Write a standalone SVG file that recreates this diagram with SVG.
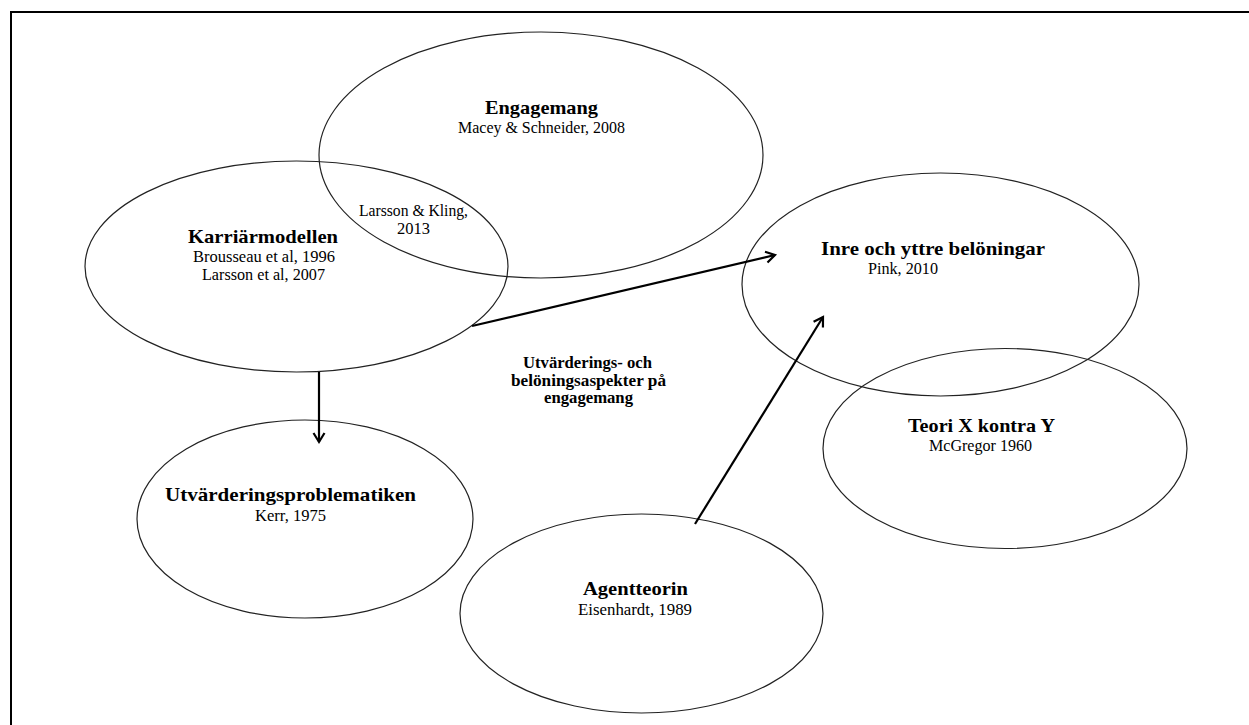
<svg xmlns="http://www.w3.org/2000/svg" width="1249" height="725" viewBox="0 0 1249 725">
<defs>
<style>
.node ellipse{fill:none;stroke:#222;stroke-width:1.2}
.t{font-family:"Liberation Serif","Times New Roman",serif;font-weight:bold;font-size:19px;fill:#000;text-anchor:middle}
.s{font-family:"Liberation Serif","Times New Roman",serif;font-size:16px;fill:#000;text-anchor:middle}
.m{font-family:"Liberation Serif","Times New Roman",serif;font-weight:bold;font-size:16.5px;fill:#000;text-anchor:middle}
.edge{stroke:#000;stroke-width:2.2;fill:none}
</style>
<marker id="arr" markerWidth="14" markerHeight="14" refX="11" refY="7" orient="auto" markerUnits="userSpaceOnUse">
<path d="M2,1.5 L11,7 L2,12.5" fill="none" stroke="#000" stroke-width="2.2"/>
</marker>
</defs>
<rect width="1249" height="725" fill="#fff"/>
<path d="M11,725 L11,12 L1249,12" fill="none" stroke="#000" stroke-width="2"/>

<g id="engagemang" class="node">
<ellipse cx="541" cy="155" rx="222" ry="123"/>
<text class="t" x="541.5" y="114" textLength="113" lengthAdjust="spacingAndGlyphs">Engagemang</text>
<text class="s" x="541.5" y="133" textLength="167" lengthAdjust="spacingAndGlyphs">Macey &amp; Schneider, 2008</text>
</g>

<g id="karriarmodellen" class="node">
<ellipse cx="296.5" cy="266.5" rx="211.5" ry="105.5"/>
<text class="t" x="263" y="243" textLength="150" lengthAdjust="spacingAndGlyphs">Karriärmodellen</text>
<text class="s" x="264" y="262" textLength="142" lengthAdjust="spacingAndGlyphs">Brousseau et al, 1996</text>
<text class="s" x="263.5" y="280" textLength="123" lengthAdjust="spacingAndGlyphs">Larsson et al, 2007</text>
</g>

<g id="overlap-label">
<text class="s" x="413.5" y="216" textLength="109" lengthAdjust="spacingAndGlyphs">Larsson &amp; Kling,</text>
<text class="s" x="413.5" y="234" textLength="33" lengthAdjust="spacingAndGlyphs">2013</text>
</g>

<g id="inre" class="node">
<ellipse cx="940.5" cy="284.5" rx="198.5" ry="111.5"/>
<text class="t" x="933" y="255" textLength="224" lengthAdjust="spacingAndGlyphs">Inre och yttre belöningar</text>
<text class="s" x="903" y="274" textLength="70" lengthAdjust="spacingAndGlyphs">Pink, 2010</text>
</g>

<g id="teori" class="node">
<ellipse cx="1005" cy="448.5" rx="182" ry="100"/>
<text class="t" x="981.5" y="432" textLength="147" lengthAdjust="spacingAndGlyphs">Teori X kontra Y</text>
<text class="s" x="980.5" y="451" textLength="103" lengthAdjust="spacingAndGlyphs">McGregor 1960</text>
</g>

<g id="utvardering" class="node">
<ellipse cx="305" cy="519" rx="168" ry="99"/>
<text class="t" x="290.5" y="501" textLength="251" lengthAdjust="spacingAndGlyphs">Utvärderingsproblematiken</text>
<text class="s" x="290.5" y="521" textLength="71" lengthAdjust="spacingAndGlyphs">Kerr, 1975</text>
</g>

<g id="agentteorin" class="node">
<ellipse cx="641.5" cy="613.5" rx="181.5" ry="99.5"/>
<text class="t" x="635.5" y="595" textLength="105" lengthAdjust="spacingAndGlyphs">Agentteorin</text>
<text class="s" x="635" y="615" textLength="114" lengthAdjust="spacingAndGlyphs">Eisenhardt, 1989</text>
</g>

<g id="center-label">
<text class="m" x="587.5" y="368" textLength="129" lengthAdjust="spacingAndGlyphs">Utvärderings- och</text>
<text class="m" x="588.5" y="386" textLength="155" lengthAdjust="spacingAndGlyphs">belöningsaspekter på</text>
<text class="m" x="588.5" y="403" textLength="89" lengthAdjust="spacingAndGlyphs">engagemang</text>
</g>

<g id="connectors">
<line class="edge" x1="472" y1="326" x2="775" y2="255" marker-end="url(#arr)"/>
<line class="edge" x1="695" y1="524" x2="823" y2="317" marker-end="url(#arr)"/>
<line class="edge" x1="319" y1="372" x2="319" y2="442" marker-end="url(#arr)"/>
</g>
</svg>
